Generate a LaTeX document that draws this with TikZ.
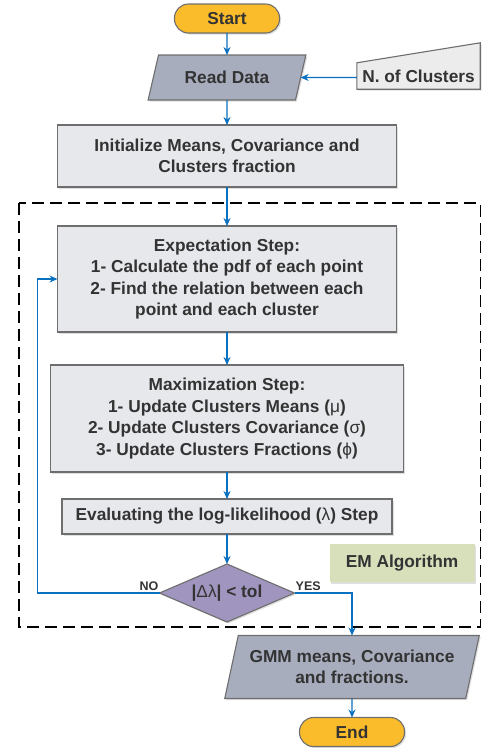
\documentclass[tikz,border=0pt]{standalone}
\usepackage{fontspec}
\setmainfont{Liberation Sans}
\usepackage{xcolor}
\usetikzlibrary{positioning,shapes.geometric,arrows.meta,shadows,backgrounds}

\definecolor{flowblue}{HTML}{0A70C0}
\definecolor{edgegray}{HTML}{6E6E6E}
\definecolor{txtgray}{HTML}{333333}
\definecolor{startorange}{HTML}{FBBC2B}
\definecolor{iofill}{HTML}{A8ADBE}
\definecolor{boxfill}{HTML}{E7E8EC}
\definecolor{decfill}{HTML}{A095BE}
\definecolor{emgreen}{HTML}{D7E0BB}

\tikzset{
  base/.style={draw=edgegray, line width=1.1pt, text=txtgray, align=center, inner sep=2pt, outer sep=0pt,
    font=\bfseries\fontsize{17.3}{21.5}\selectfont,
    drop shadow={shadow xshift=1.5pt, shadow yshift=-1.5pt, opacity=.25}},
  terminal/.style={base, rectangle, rounded corners=14pt, fill=startorange, minimum width=105pt, minimum height=29pt},
  iobox/.style={base, trapezium, trapezium stretches=true, fill=iofill},
  stepbox/.style={base, rectangle, fill=boxfill},
  decision/.style={base, diamond, aspect=2.33, fill=decfill, minimum width=135pt, minimum height=58pt, inner sep=0pt},
  flow/.style={draw=flowblue, line width=1.2pt, -{Stealth[length=8pt, width=7pt]}},
  yesno/.style={text=txtgray, font=\bfseries\fontsize{12.5}{14}\selectfont, inner sep=1pt}
}

\begin{document}
\begin{tikzpicture}[x=1pt, y=-1pt]
\useasboundingbox (0,0) rectangle (482,748);

% loop frame
\draw[black, line width=1.2pt, dash pattern=on 12pt off 6pt] (19,203) rectangle (480.5,627);

\node[terminal] (start) at (227,18.5) {Start};
\node[iobox, trapezium left angle=68, trapezium right angle=112, minimum width=158pt, minimum height=45pt, below=22pt of start] (read) {Read Data};
\node[stepbox, minimum width=339pt, minimum height=62pt, below=25pt of read] (init) {Initialize Means, Covariance and\\Clusters fraction};
\node[stepbox, minimum width=339pt, minimum height=106pt, below=39pt of init] (exp) {Expectation Step:\\1- Calculate the pdf of each point\\2- Find the relation between each\\point and each cluster};
\node[stepbox, minimum width=353pt, minimum height=107pt, below=33pt of exp] (max) {Maximization Step:\\1- Update Clusters Means ({\mdseries μ})\\2- Update Clusters Covariance ({\mdseries σ})\\3- Update Clusters Fractions ({\mdseries ϕ})};
\node[stepbox, minimum width=330pt, minimum height=35pt, below=27pt of max] (eval) {Evaluating the log-likelihood ({\mdseries λ}) Step};
\node[decision, below=30pt of eval] (dec) {|{\mdseries Δλ}| < tol};

% side nodes
\node[text=txtgray, font=\bfseries\fontsize{17.3}{21.5}\selectfont, minimum width=123pt, minimum height=26pt, inner sep=0pt] (ncl) at (418.5,76) {N. of Clusters};
\node[base, draw=none, fill=emgreen, minimum width=145pt, minimum height=38pt] (emlbl) at (402,563) {EM Algorithm};
\node[iobox, trapezium left angle=72, trapezium right angle=108, minimum width=255pt, minimum height=63pt] (gmm) at (352,667) {GMM means, Covariance\\and fractions.};
\node[terminal, below=19pt of gmm] (end) {End};

% manual input outline
\begin{scope}[on background layer]
\draw[draw=edgegray, line width=1.1pt, fill=gray!15, drop shadow={shadow xshift=1.5pt, shadow yshift=-1.5pt, opacity=.25}]
  (ncl.south west) -- (ncl.south east) -- ([yshift=20pt]ncl.north east) -- (ncl.north west) -- cycle;
\end{scope}

\draw[flow] (start) -- (read);
\draw[flow] (ncl.west |- read) -- (read);
\draw[flow] (read) -- (init);
\draw[flow] (init) -- (exp);
\draw[flow] (exp) -- (max);
\draw[flow] (max) -- (eval);
\draw[flow] (eval) -- (dec);
\draw[flow] (dec.west) -- ++(-122pt,0) |- (exp.west);
\draw[flow] (dec.east) -| (gmm.north);
\draw[flow] (gmm) -- (end);

\node[yesno, anchor=south east] (nolbl) at ([yshift=1pt]dec.west) {NO};
\node[yesno, anchor=south west] (yeslbl) at ([yshift=1pt]dec.east) {YES};
\end{tikzpicture}
\end{document}
